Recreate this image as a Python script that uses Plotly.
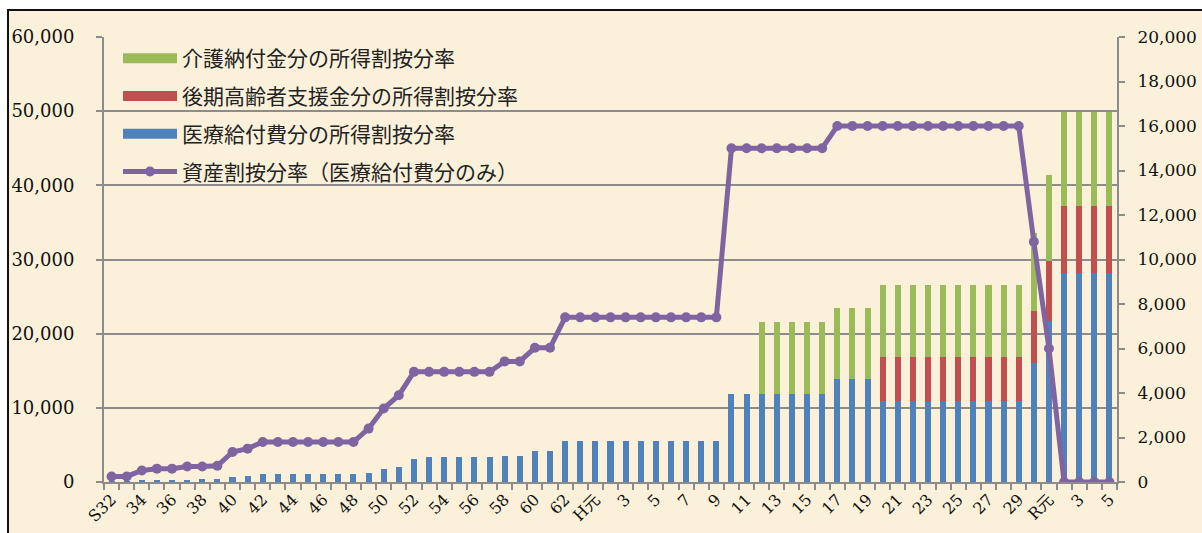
import plotly.graph_objects as go

categories = [
    "S32", "S33", "S34", "S35", "S36", "S37", "S38", "S39", "S40", "S41",
    "S42", "S43", "S44", "S45", "S46", "S47", "S48", "S49", "S50", "S51",
    "S52", "S53", "S54", "S55", "S56", "S57", "S58", "S59", "S60", "S61",
    "S62", "S63", "H元", "H2", "H3", "H4", "H5", "H6", "H7", "H8",
    "H9", "H10", "H11", "H12", "H13", "H14", "H15", "H16", "H17", "H18",
    "H19", "H20", "H21", "H22", "H23", "H24", "H25", "H26", "H27", "H28",
    "H29", "H30", "R元", "R2", "R3", "R4", "R5",
]

tick_labels = [
    "S32", "", "34", "", "36", "", "38", "", "40", "",
    "42", "", "44", "", "46", "", "48", "", "50", "",
    "52", "", "54", "", "56", "", "58", "", "60", "",
    "62", "", "H元", "", "3", "", "5", "", "7", "",
    "9", "", "11", "", "13", "", "15", "", "17", "",
    "19", "", "21", "", "23", "", "25", "", "27", "",
    "29", "", "R元", "", "3", "", "5",
]

# 医療給付費分の所得割按分率 (left axis)
medical = [
    100, 130, 180, 220, 300, 300, 350, 400, 720, 765,
    1035, 1035, 1035, 1035, 1035, 1035, 1035, 1260, 1700, 2070,
    3150, 3370, 3370, 3370, 3370, 3370, 3550, 3550, 4180, 4180,
    5530, 5530, 5530, 5530, 5530, 5530, 5530, 5530, 5530, 5530,
    5530, 11930, 11930, 11930, 11930, 11930, 11930, 11930, 13940, 13940,
    13940, 10890, 10890, 10890, 10890, 10890, 10890, 10890, 10890, 10890,
    10890, 16060, 21750, 28170, 28170, 28170, 28170,
]

# 後期高齢者支援金分の所得割按分率 (left axis)
support = [
    0, 0, 0, 0, 0, 0, 0, 0, 0, 0,
    0, 0, 0, 0, 0, 0, 0, 0, 0, 0,
    0, 0, 0, 0, 0, 0, 0, 0, 0, 0,
    0, 0, 0, 0, 0, 0, 0, 0, 0, 0,
    0, 0, 0, 0, 0, 0, 0, 0, 0, 0,
    0, 5970, 5970, 5970, 5970, 5970, 5970, 5970, 5970, 5970,
    5970, 6940, 8020, 9060, 9060, 9060, 9060,
]

# 介護納付金分の所得割按分率 (left axis)
care = [
    0, 0, 0, 0, 0, 0, 0, 0, 0, 0,
    0, 0, 0, 0, 0, 0, 0, 0, 0, 0,
    0, 0, 0, 0, 0, 0, 0, 0, 0, 0,
    0, 0, 0, 0, 0, 0, 0, 0, 0, 0,
    0, 0, 0, 9590, 9590, 9590, 9590, 9590, 9520, 9520,
    9520, 9690, 9690, 9690, 9690, 9690, 9690, 9690, 9690, 9690,
    9690, 10590, 11620, 12650, 12650, 12650, 12650,
]

# 資産割按分率（医療給付費分のみ） (right axis)
asset = [
    250, 250, 520, 600, 600, 700, 700, 730, 1350, 1500,
    1800, 1800, 1800, 1800, 1800, 1800, 1800, 2400, 3300, 3900,
    4950, 4950, 4950, 4950, 4950, 4950, 5420, 5420, 6030, 6030,
    7400, 7400, 7400, 7400, 7400, 7400, 7400, 7400, 7400, 7400,
    7400, 15000, 15000, 15000, 15000, 15000, 15000, 15000, 16000, 16000,
    16000, 16000, 16000, 16000, 16000, 16000, 16000, 16000, 16000, 16000,
    16000, 10800, 6000, 0, 0, 0, 0,
]

name_care = "介護納付金分の所得割按分率"
name_support = "後期高齢者支援金分の所得割按分率"
name_medical = "医療給付費分の所得割按分率"
name_asset = "資産割按分率（医療給付費分のみ）"

C_BLUE = "#4F81BD"
C_RED = "#C0504D"
C_GREEN = "#9BBB59"
C_PURPLE = "#8064A2"
GRID = "#8C8C8C"
BG = "#FBF1DA"
NUM_FONT = "DejaVu Serif, Noto Sans CJK JP"
JP_FONT = "Noto Sans CJK JP"

fig = go.Figure()
fig.add_trace(go.Bar(x=categories, y=medical, name=name_medical, marker_color=C_BLUE,
                     marker_line_width=0, showlegend=False))
fig.add_trace(go.Bar(x=categories, y=support, name=name_support, marker_color=C_RED,
                     marker_line_width=0, showlegend=False))
fig.add_trace(go.Bar(x=categories, y=care, name=name_care, marker_color=C_GREEN,
                     marker_line_width=0, showlegend=False))

# legend entries drawn as thick swatches
for nm, col, grp in [(name_care, C_GREEN, "g1"), (name_support, C_RED, "g2"),
                     (name_medical, C_BLUE, "g3")]:
    fig.add_trace(go.Scatter(x=[None], y=[None], mode="lines", name=nm,
                             line=dict(color=col, width=11), legendgroup=grp,
                             hoverinfo="skip"))

fig.add_trace(go.Scatter(x=categories, y=asset, name=name_asset, yaxis="y2",
                         mode="lines+markers", legendgroup="g4",
                         line=dict(color=C_PURPLE, width=5),
                         marker=dict(color=C_PURPLE, size=10)))

W, H = 1202, 533
ML, MR, MT, MB = 104, 85, 37, 51
pw = W - ML - MR
ph = H - MT - MB

def px_x(p):
    return (p - ML) / pw

def px_y(p):
    return (H - MB - p) / ph

fig.update_layout(
    width=W, height=H,
    margin=dict(l=ML, r=MR, t=MT, b=MB, pad=0, autoexpand=False),
    paper_bgcolor="white",
    plot_bgcolor="rgba(0,0,0,0)",
    barmode="stack",
    bargap=0.6,
    showlegend=True,
    legend=dict(
        x=px_x(118), y=px_y(38), xanchor="left", yanchor="top",
        bgcolor="rgba(0,0,0,0)", borderwidth=0,
        font=dict(family=JP_FONT, size=21, color="#222222"),
        traceorder="grouped", tracegroupgap=7.5, itemwidth=54,
    ),
    shapes=[dict(
        type="rect", xref="paper", yref="paper", layer="below",
        x0=px_x(8), x1=1.3, y0=-0.3, y1=px_y(10),
        fillcolor=BG, line=dict(color="#111111", width=2),
    )],
    xaxis=dict(
        type="category", categoryorder="array", categoryarray=categories,
        range=[-0.5, len(categories) - 0.5], automargin=False,
        tickmode="array", tickvals=categories, ticktext=tick_labels,
        tickangle=-45, tickson="boundaries",
        ticks="outside", ticklen=6, tickwidth=2, tickcolor=GRID,
        showline=True, linecolor=GRID, linewidth=2,
        showgrid=False, zeroline=False,
        tickfont=dict(family=NUM_FONT, size=16, color="#111111"),
    ),
    yaxis=dict(
        range=[0, 60000], dtick=10000, tickformat=",", automargin=False,
        showgrid=True, gridcolor=GRID, gridwidth=2,
        showline=True, linecolor=GRID, linewidth=2,
        ticks="outside", ticklen=6, tickwidth=2, tickcolor=GRID,
        zeroline=False, ticklabelstandoff=18,
        tickfont=dict(family=NUM_FONT, size=18, color="#111111"),
    ),
    yaxis2=dict(
        overlaying="y", side="right", automargin=False,
        range=[0, 20000], dtick=2000, tickformat=",",
        showgrid=False, showline=True, linecolor=GRID, linewidth=2,
        ticks="outside", ticklen=6, tickwidth=2, tickcolor=GRID,
        zeroline=False, ticklabelstandoff=9,
        tickfont=dict(family=NUM_FONT, size=17, color="#111111"),
    ),
)

fig.write_html("out.html", config={"displayModeBar": False},
               post_script="document.body.style.margin='0';document.body.style.overflow='hidden';")
